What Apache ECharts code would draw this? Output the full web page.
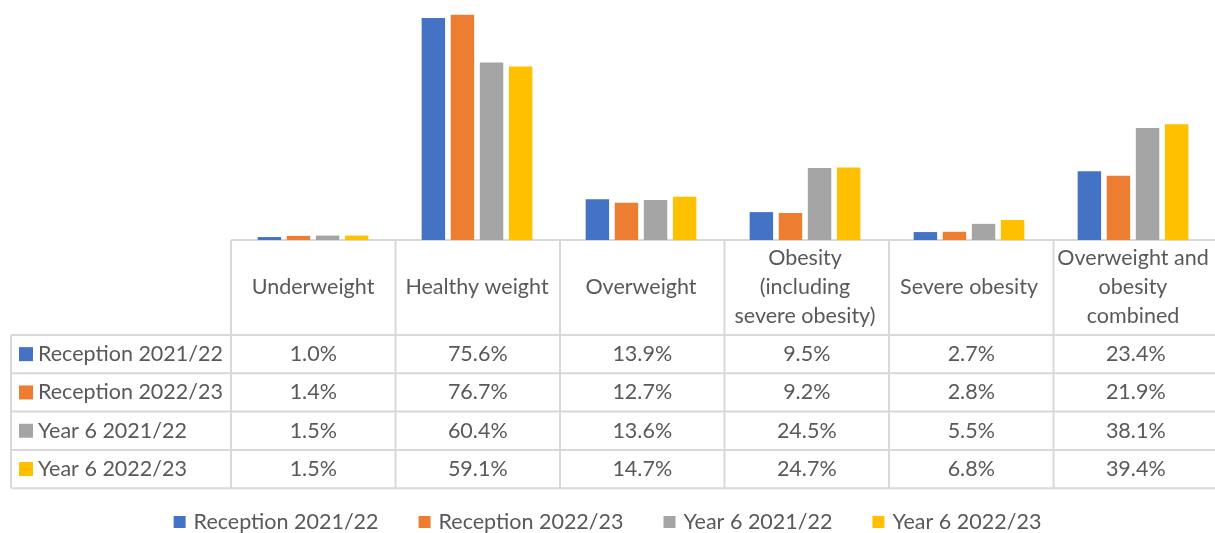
<!DOCTYPE html>
<html>
<head>
<meta charset="utf-8">
<script src="https://cdn.jsdelivr.net/npm/echarts@6/dist/echarts.min.js"></script>
<style>
  html, body { margin: 0; padding: 0; background: #fff; }
  #main { width: 1215px; height: 533px; }
</style>
</head>
<body>
<div id="main"></div>
<script>
// data
var categories = ['Underweight', 'Healthy weight', 'Overweight', 'Obesity\n(including\nsevere obesity)', 'Severe obesity', 'Overweight and\nobesity\ncombined'];
var seriesNames = ['Reception 2021/22', 'Reception 2022/23', 'Year 6 2021/22', 'Year 6 2022/23'];
var reception2122 = [1.0, 75.6, 13.9, 9.5, 2.7, 23.4];
var reception2223 = [1.4, 76.7, 12.7, 9.2, 2.8, 21.9];
var year6_2122 = [1.5, 60.4, 13.6, 24.5, 5.5, 38.1];
var year6_2223 = [1.5, 59.1, 14.7, 24.7, 6.8, 39.4];
var seriesData = [reception2122, reception2223, year6_2122, year6_2223];
var colors = ['#4472c4', '#ed7d31', '#a5a5a5', '#ffc000'];

var FONT = 'Lato';
var FS = 21.5;
var TXT = '#595959';
var LINE = '#d9d9d9';

// layout of the plot + data table
var gridLeft = 231, gridTop = 5, gridH = 235, colW = 164.5;
var gridW = colW * categories.length;
var tableLeft = 11, headTop = gridTop + gridH, headBottom = 335, rowH = 38.3;

function buildTable() {
  var g = [];
  var right = gridLeft + gridW;
  var bottom = headBottom + rowH * seriesNames.length;
  function line(x1, y1, x2, y2) {
    g.push({ type: 'line', silent: true, shape: { x1: x1, y1: y1, x2: x2, y2: y2 }, style: { stroke: LINE, lineWidth: 2 } });
  }
  line(gridLeft, headTop, right, headTop);
  line(tableLeft, headBottom, right, headBottom);
  for (var r = 1; r <= seriesNames.length; r++) {
    line(tableLeft, headBottom + rowH * r, right, headBottom + rowH * r);
  }
  line(tableLeft, headBottom, tableLeft, bottom);
  for (var c = 0; c <= categories.length; c++) {
    line(gridLeft + colW * c, headTop, gridLeft + colW * c, bottom);
  }
  for (var i = 0; i < seriesNames.length; i++) {
    var cy = headBottom + rowH * i + rowH / 2;
    g.push({ type: 'rect', silent: true, shape: { x: 19, y: cy - 7, width: 14, height: 14 }, style: { fill: colors[i] } });
    g.push({ type: 'text', silent: true, style: { text: seriesNames[i], x: 38, y: cy, align: 'left', verticalAlign: 'middle', font: FS + 'px ' + FONT, fill: TXT } });
    for (var j = 0; j < categories.length; j++) {
      g.push({ type: 'text', silent: true, style: { text: seriesData[i][j].toFixed(1) + '%', x: gridLeft + colW * j + colW / 2, y: cy, align: 'center', verticalAlign: 'middle', font: FS + 'px ' + FONT, fill: TXT } });
    }
  }
  return g;
}

var myChart = echarts.init(document.getElementById('main'));
myChart.setOption({
  animation: false,
  color: colors,
  grid: { left: gridLeft, top: gridTop, width: gridW, height: gridH },
  legend: {
    top: 511,
    left: 'center',
    padding: 0,
    icon: 'rect',
    itemWidth: 12,
    itemHeight: 12,
    itemGap: 40,
    data: seriesNames,
    textStyle: { fontFamily: FONT, fontSize: FS, color: TXT, padding: [0, 0, 0, 3] }
  },
  xAxis: {
    type: 'category',
    data: categories,
    axisLine: { show: false },
    axisTick: { show: false },
    axisLabel: {
      margin: 47,
      verticalAlign: 'middle',
      interval: 0,
      fontFamily: FONT,
      fontSize: FS,
      lineHeight: 29,
      color: TXT
    }
  },
  yAxis: {
    type: 'value',
    min: 0,
    max: 80,
    show: false,
    splitLine: { show: false }
  },
  series: seriesNames.map(function (name, i) {
    return {
      name: name,
      type: 'bar',
      data: seriesData[i],
      barGap: '24%',
      barCategoryGap: '32.5%'
    };
  }),
  graphic: buildTable()
});
</script>
</body>
</html>
